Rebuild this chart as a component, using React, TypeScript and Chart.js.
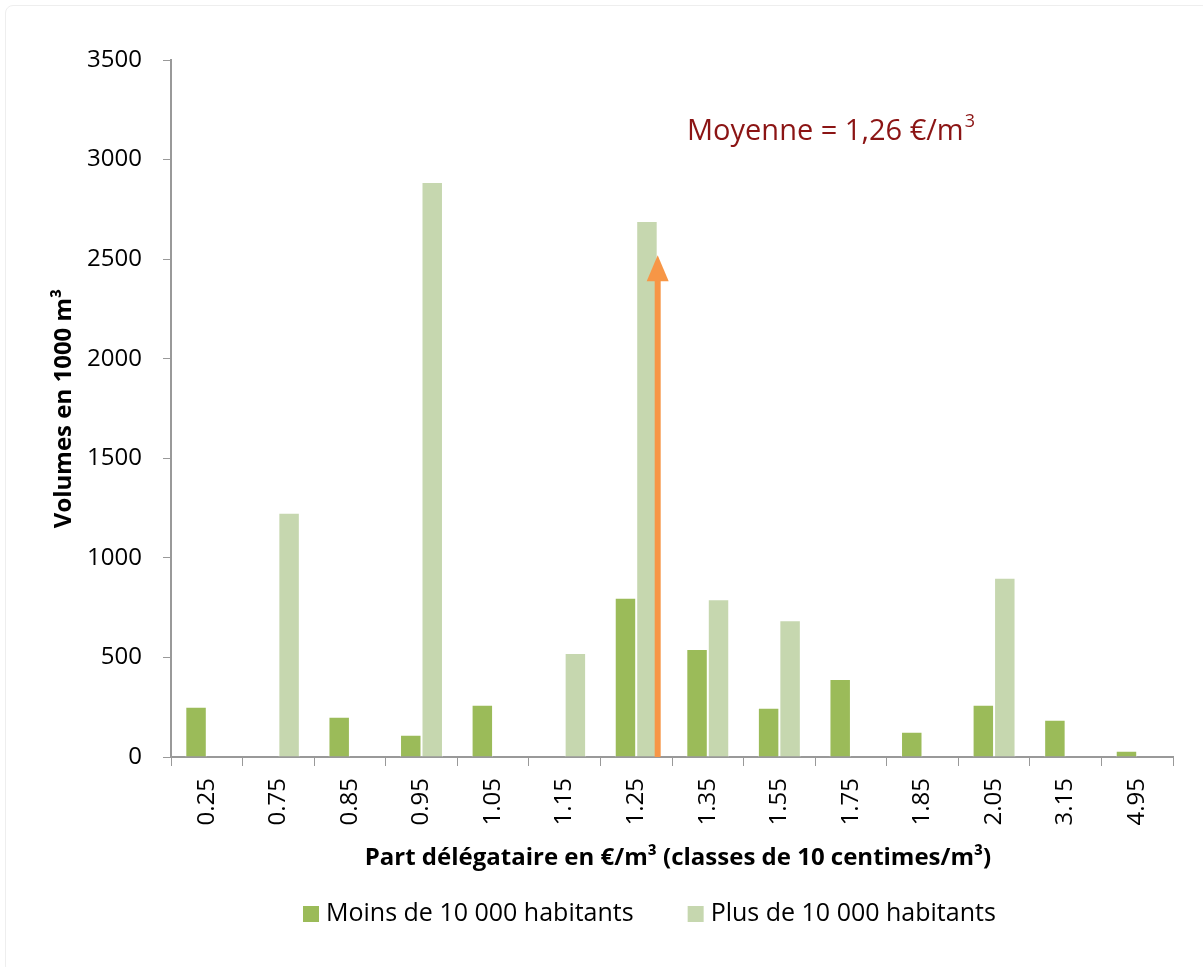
import React, { useEffect, useRef } from "react";
import { Chart, registerables } from "chart.js";
Chart.register(...registerables);

const categories = ["0.25", "0.75", "0.85", "0.95", "1.05", "1.15", "1.25", "1.35", "1.55", "1.75", "1.85", "2.05", "3.15", "4.95"];
const moinsValues = [252, null, 202, 112, 262, null, 800, 542, 247, 392, 127, 262, 187, 32];
const plusValues = [null, 1227, null, 2887, null, 522, 2692, 792, 687, null, null, 900, null, null];
const seriesNames = ["Moins de 10 000 habitants", "Plus de 10 000 habitants"];
const yMin = 0;
const yMax = 3500;
const yStep = 500;
const xTitle = "Part délégataire en €/m³ (classes de 10 centimes/m³)";
const yTitle = "Volumes en 1000 m³";
const meanText = "Moyenne = 1,26 €/m";
const meanSup = "3";
const meanArrowIndex = 6.3;
const meanArrowTop = 2520;
const meanTextAt = { index: 6.71, value: 3100 };

const DARK = "#9BBB59";
const LIGHT = "#C6D7AF";
const ORANGE = "#F79646";
const FONT = "'Open Sans', sans-serif";

const overlay = {
  id: "overlay",
  afterDraw(chart: any) {
    const ctx = chart.ctx;
    const x = chart.scales.x;
    const y = chart.scales.y;
    const ca = chart.chartArea;
    ctx.save();
    // arrow
    const ax = x.getPixelForValue(meanArrowIndex);
    const y0 = y.getPixelForValue(0);
    const yt = y.getPixelForValue(meanArrowTop);
    const headH = 26;
    const headW = 22;
    ctx.fillStyle = ORANGE;
    ctx.fillRect(ax - 3, yt + headH - 1, 6, y0 - (yt + headH - 1));
    ctx.beginPath();
    ctx.moveTo(ax, yt);
    ctx.lineTo(ax + headW / 2, yt + headH);
    ctx.lineTo(ax - headW / 2, yt + headH);
    ctx.closePath();
    ctx.fill();

    // mean text
    ctx.fillStyle = "#8B1414";
    ctx.font = `29px ${FONT}`;
    ctx.textBaseline = "alphabetic";
    ctx.textAlign = "left";
    const tx = x.getPixelForValue(meanTextAt.index);
    const ty = y.getPixelForValue(meanTextAt.value);
    ctx.fillText(meanText, tx, ty);
    const w = ctx.measureText(meanText).width;
    ctx.font = `18px ${FONT}`;
    ctx.fillText(meanSup, tx + w + 1, ty - 13);

    // axis titles
    ctx.fillStyle = "#000";
    ctx.font = `bold 24px ${FONT}`;
    ctx.textAlign = "center";
    ctx.textBaseline = "middle";
    ctx.fillText(xTitle, (ca.left + ca.right) / 2 + 6, 858);
    ctx.save();
    ctx.translate(64, (ca.top + ca.bottom) / 2);
    ctx.rotate(-Math.PI / 2);
    ctx.font = `bold 24px ${FONT}`;
    ctx.fillText(yTitle, 0, 0);
    ctx.restore();

    // legend
    ctx.font = `25px ${FONT}`;
    ctx.textAlign = "left";
    ctx.textBaseline = "middle";
    const ly = 914;
    let lx = 303;
    const colors = [DARK, LIGHT];
    seriesNames.forEach((name, i) => {
      ctx.fillStyle = colors[i];
      ctx.fillRect(lx, ly - 8, 16, 16);
      ctx.fillStyle = "#000";
      ctx.fillText(name, lx + 23, ly);
      lx += 23 + ctx.measureText(name).width + 54;
    });
    ctx.restore();
  },
};

export default function App() {
  const ref = useRef<HTMLCanvasElement>(null);
  useEffect(() => {
    document.body.style.margin = "0";
    const chart = new Chart(ref.current!, {
      type: "bar",
      data: {
        labels: categories,
        datasets: [
          { label: seriesNames[0], data: moinsValues, backgroundColor: DARK, borderColor: "#ffffff", borderWidth: 1 },
          { label: seriesNames[1], data: plusValues, backgroundColor: LIGHT, borderColor: "#ffffff", borderWidth: 1 },
        ],
      },
      options: {
        responsive: false,
        animation: false,
        layout: { padding: { top: 60, right: 30, left: 0, bottom: 0 } },
        datasets: { bar: { categoryPercentage: 0.6, barPercentage: 1 } },
        plugins: { legend: { display: false }, tooltip: { enabled: false }, title: { display: false } },
        scales: {
          x: {
            grid: { offset: true, drawOnChartArea: false, drawTicks: true, tickLength: 9, color: "#999" },
            border: { color: "#999", width: 2 },
            ticks: {
              autoSkip: false,
              minRotation: 90,
              maxRotation: 90,
              padding: 12,
              color: "#000",
              font: { family: FONT, size: 24 },
            },
            afterFit: (s: any) => { s.height = 210; },
          },
          y: {
            min: yMin,
            max: yMax,
            grid: { drawOnChartArea: false, drawTicks: true, tickLength: 8, color: "#999" },
            border: { color: "#999", width: 2 },
            ticks: {
              stepSize: yStep,
              padding: 21,
              color: "#000",
              font: { family: FONT, size: 24 },
              callback: (v: any) => String(v),
            },
            afterFit: (s: any) => { s.width = 171; },
          },
        },
      },
      plugins: [overlay],
    });
    return () => chart.destroy();
  }, []);
  return (
    <div style={{ position: "relative", width: 1203, height: 967, overflow: "hidden", background: "#fff" }}>
      <div style={{ position: "absolute", left: 5, top: 5, width: 1203, height: 967, border: "1px solid #eeeeee", borderRadius: 8 }} />
      <canvas ref={ref} width={1203} height={967} style={{ position: "absolute", left: 0, top: 0, width: 1203, height: 967 }} />
    </div>
  );
}
